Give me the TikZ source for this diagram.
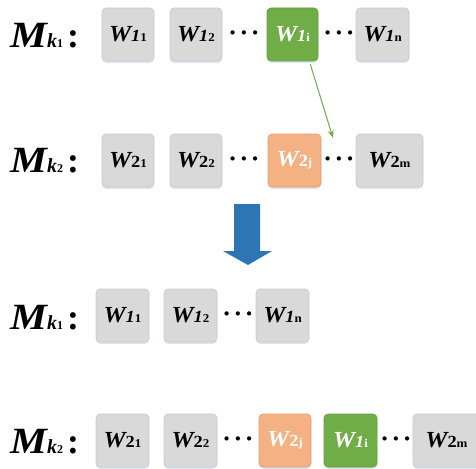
\documentclass[tikz,border=0pt]{standalone}
\usepackage{fontspec}
\usepackage{graphicx}
\setmainfont{Liberation Serif}
\usetikzlibrary{calc,arrows.meta}
\definecolor{boxgray}{HTML}{D9D9D9}
\definecolor{boxline}{HTML}{C9C9C9}
\definecolor{shadowc}{HTML}{DCE6F2}
\definecolor{wgreen}{HTML}{70AD47}
\definecolor{worange}{HTML}{F4B183}
\definecolor{wblue}{HTML}{2E75B6}
\newcommand\wlab[2]{\scalebox{1.08}[1]{{\fontsize{23}{23}\selectfont\bfseries\itshape W}{\fontsize{17}{17}\selectfont\bfseries #1}{\fontsize{12}{12}\selectfont\bfseries #2}}}
\newcommand\wone[1]{\wlab{\itshape 1}{#1}}
\newcommand\wtwo[1]{\wlab{2}{#1}}
\newcommand\mlab[1]{\scalebox{1.12}[1]{{\fontsize{37}{37}\selectfont\bfseries\itshape M}}{\fontsize{20}{20}\selectfont\bfseries\itshape k}{\fontsize{12}{12}\selectfont\bfseries #1}}
\tikzset{
  wbox/.style={rounded corners=4pt, fill=boxgray, draw=boxline, line width=0.6pt,
    minimum height=53pt, minimum width=52pt, inner sep=0pt, align=center,
    preaction={fill=shadowc, draw=none, transform canvas={yshift=-1.8pt}}},
  greenbox/.style={wbox, fill=wgreen, draw=wgreen!90!black, text=white},
  orangebox/.style={wbox, fill=worange, draw=worange!90!black, text=white},
  mtext/.style={anchor=base west, inner sep=0pt},
  colon/.style={anchor=base, inner sep=0pt, font=\fontsize{36}{36}\selectfont\bfseries},
  dots/.style={anchor=center, inner sep=0pt, font=\fontsize{26}{26}\selectfont\bfseries},
  greenarrow/.style={draw=wgreen, line width=1pt, -{Stealth[length=8pt,width=6pt]}},
}
\newcommand\threedots{·\kern2.5pt·\kern2.5pt·}
\begin{document}
\begin{tikzpicture}[x=1pt,y=-1pt]
\useasboundingbox (0,0) rectangle (476,468);
\clip (0,0) rectangle (476,468);
% Row 1
\node[mtext] (m1) at (10,48) {\mlab{1}};
\node[colon] (c1) at (73,48) {:};
\node[wbox] (a1) at (128,34.5) {\wone{1}};
\node[wbox] (a2) at (196,34.5) {\wone{2}};
\node[dots] (d1a) at (244,36) {\threedots};
\node[greenbox, minimum width=51pt] (a3) at (292.5,34.5) {\wone{i}};
\node[dots] (d1b) at (339,36) {\threedots};
\node[wbox, minimum width=53pt] (a4) at (382.5,34.5) {\wone{n}};
% Row 2
\node[mtext] (m2) at (10,172) {\mlab{2}};
\node[colon] (c2) at (73,172) {:};
\node[wbox] (b1) at (128,160.5) {\wtwo{1}};
\node[wbox] (b2) at (196,160.5) {\wtwo{2}};
\node[dots] (d2a) at (244,162) {\threedots};
\node[orangebox, minimum width=53pt] (b3) at (294.5,160.5) {\wtwo{j}};
\node[dots] (d2b) at (339,162) {\threedots};
\node[wbox, minimum width=67pt] (b4) at (389.5,160.5) {\wtwo{m}};
% green arrow
\coordinate (gend) at (333,138);
\draw[greenarrow] ($(a3.south east)+(-8,3)$) -- (gend);
% blue arrow
\fill[wblue] (234,204) -- (260,204) -- (260,251) -- (272,251) -- (248,265) -- (223,251) -- (234,251) -- cycle;
% Row 3
\node[mtext] (m3) at (10,329) {\mlab{1}};
\node[colon] (c3) at (73,329) {:};
\node[wbox, minimum width=53pt] (e1) at (122.5,315.5) {\wone{1}};
\node[wbox, minimum width=53pt] (e2) at (190.5,315.5) {\wone{2}};
\node[dots] (d3a) at (238,317) {\threedots};
\node[wbox, minimum width=53pt] (e3) at (282.5,315.5) {\wone{n}};
% Row 4
\node[mtext] (m4) at (10,453) {\mlab{2}};
\node[colon] (c4) at (73,453) {:};
\node[wbox, minimum width=53pt] (f1) at (122.5,440.5) {\wtwo{1}};
\node[wbox, minimum width=53pt] (f2) at (190.5,440.5) {\wtwo{2}};
\node[dots] (d4a) at (238,442) {\threedots};
\node[orangebox] (f3) at (285,440.5) {\wtwo{j}};
\node[greenbox, minimum width=53pt] (f4) at (350.5,440.5) {\wone{i}};
\node[dots] (d4b) at (396,442) {\threedots};
\node[wbox, minimum width=67pt] (f5) at (446.5,440.5) {\wtwo{m}};
\end{tikzpicture}
\end{document}
